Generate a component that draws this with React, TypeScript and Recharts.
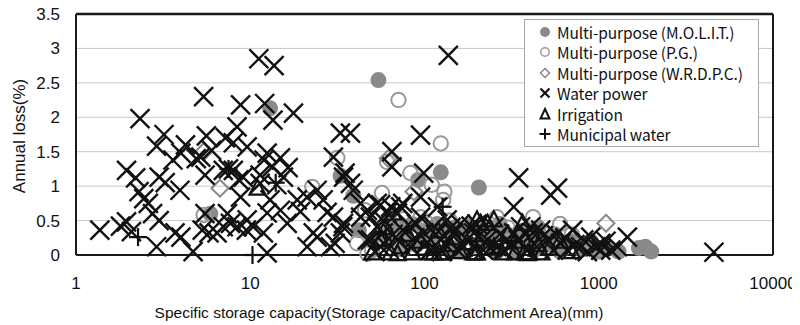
import React from 'react';
import { ScatterChart, Scatter, XAxis, YAxis, CartesianGrid, ReferenceLine } from 'recharts';

type P = [number, number];

// Multi-purpose (M.O.L.I.T.) – filled grey circles
const molit: P[] = [
  [5.9, 0.6], [13, 2.13], [54.4, 2.54], [124, 1.2], [92, 1.09], [205, 0.98], [33, 1.15], [39, 0.86], [42, 0.36],
  [55, 0.3], [62, 0.2], [70, 0.42], [78, 0.3], [85, 0.45], [90, 0.15], [100, 0.35], [110, 0.25], [118, 0.45],
  [130, 0.3], [140, 0.1], [150, 0.4], [165, 0.25], [180, 0.42], [200, 0.15], [220, 0.35], [240, 0.25], [270, 0.45],
  [300, 0.3], [330, 0.15], [360, 0.35], [400, 0.25], [450, 0.4], [500, 0.15], [560, 0.3], [620, 0.1], [700, 0.2],
  [800, 0.08], [900, 0.15], [1000, 0.05], [1150, 0.1], [1300, 0.05], [1700, 0.1], [1850, 0.12], [2000, 0.05],
  [75, 0.08], [160, 0.05], [260, 0.05], [340, 0.05], [430, 0.08], [600, 0.05],
];

// Multi-purpose (P.G.) – open grey circles
const pg: P[] = [
  [5.4, 0.58], [22.7, 0.99], [31.6, 1.41], [45.6, 0.65], [47, 0.02], [41, 0.17], [57, 0.9], [61, 1.35], [70.9, 2.25],
  [83, 1.19], [110, 1.02], [124, 1.62], [128, 0.8], [130, 0.92], [50, 0.07], [55, 0.3], [65, 0.45], [75, 0.52],
  [85, 0.35], [95, 0.55], [105, 0.45], [115, 0.28], [140, 0.5], [160, 0.38], [190, 0.35], [230, 0.47], [260, 0.55],
  [300, 0.4], [350, 0.33], [420, 0.55], [500, 0.3], [600, 0.45], [700, 0.3], [900, 0.2], [1000, 0.1], [180, 0.1],
  [80, 0.15],
];

// Multi-purpose (W.R.D.P.C.) – open grey diamonds
const wrdpc: P[] = [
  [6.7, 0.97], [87, 0.92], [1100, 0.46], [62, 1.4], [5.4, 1.5], [150, 0.3], [250, 0.2], [400, 0.15],
];

// Water power – black crosses
const waterPower: P[] = [
  [1.37, 0.36], [1.8, 0.42], [1.95, 0.48], [2.08, 0.34], [2.33, 1.98], [1.95, 1.23], [2.2, 1.12], [2.3, 0.92],
  [2.45, 0.82], [2.6, 0.75], [2.75, 0.6], [2.9, 1.58], [3.2, 1.75], [3.0, 1.13], [3.25, 1.05], [3.0, 0.5],
  [2.9, 0.12], [3.95, 0.94], [3.6, 1.38], [4.0, 1.48], [4.25, 1.6], [3.7, 0.32], [4.0, 0.26], [4.7, 0.05],
  [5.4, 2.3], [5.6, 1.73], [5.2, 1.42], [4.9, 1.4], [6.0, 1.52], [5.5, 1.16], [5.5, 0.6], [5.3, 0.36], [5.8, 0.32],
  [6.45, 0.32], [7.0, 0.41], [7.7, 0.46], [7.4, 0.6], [7.0, 1.23], [7.2, 1.7], [8.4, 1.86], [8.0, 1.63], [8.8, 2.18],
  [7.5, 1.25], [8.0, 1.23], [8.6, 1.09], [9.1, 1.13], [8.8, 0.84], [9.6, 1.57], [9.6, 0.51], [8.4, 0.41],
  [10.4, 0.41], [9.5, 0.36], [11.2, 2.85], [13.7, 2.75], [12.1, 2.2], [13.5, 1.96], [12.5, 1.48], [14.9, 1.41],
  [13.4, 1.28], [15.5, 1.13], [14.2, 1.02], [11.4, 1.04], [12, 1.38], [11.4, 1.16], [13, 0.8], [14.9, 0.65],
  [12.5, 0.61], [11.9, 0.32], [12.5, 0.03], [16.3, 0.46], [17.7, 2.06], [16.5, 1.27], [18.6, 0.8], [21.2, 0.84],
  [24.2, 0.94], [19.4, 0.63], [21.2, 0.12], [28.8, 0.12], [24.2, 0.26], [27.6, 0.62], [30, 0.55], [32.9, 0.32],
  [34.3, 0.46], [30, 1.42], [32.9, 1.77], [37.6, 1.77], [34.3, 1.13], [37.6, 1.04], [39, 0.94], [42.9, 0.75],
  [48.9, 0.55], [47, 0.22], [26.2, 0.8], [23, 0.32], [30.7, 0.17], [34, 0.41], [47, 0.65], [43, 0.55],
  [137, 2.9], [94.9, 1.74], [65, 1.5], [65, 1.28], [35, 1.19], [99, 1.19], [347, 1.12], [325, 0.7], [64, 0.7],
  [70, 0.61], [95, 0.84], [56, 0.73], [73, 0.7], [53.5, 0.75], [61, 0.61], [75, 0.75], [53.5, 0.41], [58, 0.32],
  [83, 0.41], [95, 0.55], [99, 0.32], [113, 0.41], [135, 0.51], [124, 0.22], [147, 0.32], [176, 0.22], [192, 0.32],
  [229, 0.22], [261, 0.12], [298, 0.22], [325, 0.32], [56, 0.12], [83, 0.12], [108, 0.07], [155, 0.07], [218, 0.07],
  [356, 0.41], [420, 0.32], [510, 0.22], [605, 0.17], [660, 0.07], [788, 0.12], [900, 0.26], [1027, 0.17],
  [1172, 0.07], [285, 0.07], [390, 0.07], [550, 0.07], [530, 0.87], [580, 0.97], [708, 0.36], [1460, 0.26],
  [1280, 0.12], [407, 0.41], [464, 0.36], [820, 0.22], [1027, 0.07], [4580, 0.04], [49, 0.22], [70, 0.22],
  [75, 0.36], [61, 0.12], [119, 0.7], [160, 0.45], [250, 0.4], [200, 0.45],
  [66, 0.3], [88, 0.25], [104, 0.18], [116, 0.3], [132, 0.15], [142, 0.4], [168, 0.12], [185, 0.42], [205, 0.28],
  [240, 0.1], [270, 0.3], [310, 0.12], [345, 0.22], [380, 0.3], [440, 0.12], [480, 0.28], [570, 0.3], [640, 0.25],
  [730, 0.15], [860, 0.05], [960, 0.12], [1100, 0.2], [90, 0.45], [58, 0.5], [52, 0.05], [126, 0.05],
];

// Irrigation – open black triangles
const irrigation: P[] = [
  [11, 0.97], [66, 0.61], [70, 0.02], [56, 0.22], [113, 0.03], [128, 0.03], [200, 0.51], [250, 0.51], [200, 0.03],
  [250, 0.12], [390, 0.02], [73, 0.12], [108, 0.03], [210, 0.46], [230, 0.46], [365, 0.46], [190, 0.03], [400, 0.03],
  [50, 0.03], [64, 0.03], [85, 0.03], [122, 0.03], [196, 0.03], [375, 0.03], [470, 0.03], [80, 0.3], [150, 0.25],
  [300, 0.3], [600, 0.2], [140, 0.15], [280, 0.03], [330, 0.2], [160, 0.05], [95, 0.2], [120, 0.35], [450, 0.15],
  [700, 0.05], [100, 0.1], [175, 0.18], [230, 0.1], [520, 0.1], [60, 0.4], [330, 0.03],
];

// Municipal water – black plus signs
const municipal: P[] = [
  [2.27, 0.26], [10.3, 0.0], [127, 0.7], [7.5, 1.25], [14, 1.05], [60, 0.3], [200, 0.2], [400, 0.1],
];

const xTicks = [1, 10, 100, 1000, 10000];
const yTicks = [0, 0.5, 1, 1.5, 2, 2.5, 3, 3.5];
const xTitle = 'Specific storage capacity(Storage capacity/Catchment Area)(mm)';
const yTitle = 'Annual loss(%)';

const toPts = (a: P[]) => a.map(([x, y]) => ({ x, y }));

const GREY_FILL = '#8a8a8a';
const GREY_LINE = '#9a9a9a';
const BLACK = '#111';
const FRAME = '#1a1a1a';

const FilledCircle = (p: any) => <circle cx={p.cx} cy={p.cy} r={8} fill={GREY_FILL} />;
const OpenCircle = (p: any) => <circle cx={p.cx} cy={p.cy} r={7.2} fill="none" stroke={GREY_LINE} strokeWidth={2} />;
const Diamond = (p: any) => {
  const s = 8.5;
  const { cx, cy } = p;
  return <path d={`M${cx},${cy - s}L${cx + s},${cy}L${cx},${cy + s}L${cx - s},${cy}Z`} fill="none" stroke="#888" strokeWidth={2} />;
};
const Cross = (p: any) => {
  const s = 9.5;
  const { cx, cy } = p;
  return (
    <g>
      <line x1={cx - s} y1={cy - s} x2={cx + s} y2={cy + s} stroke={BLACK} strokeWidth={2.4} />
      <line x1={cx - s} y1={cy + s} x2={cx + s} y2={cy - s} stroke={BLACK} strokeWidth={2.4} />
    </g>
  );
};
const Triangle = (p: any) => {
  const { cx, cy } = p;
  return <path d={`M${cx},${cy - 8.5}L${cx + 8},${cy + 6.5}L${cx - 8},${cy + 6.5}Z`} fill="none" stroke={BLACK} strokeWidth={2.2} />;
};
const Plus = (p: any) => {
  const s = 9;
  const { cx, cy } = p;
  return (
    <g>
      <line x1={cx - s} y1={cy} x2={cx + s} y2={cy} stroke={BLACK} strokeWidth={2.2} />
      <line x1={cx} y1={cy - s} x2={cx} y2={cy + s} stroke={BLACK} strokeWidth={2.2} />
    </g>
  );
};

const legendRows = [
  { label: 'Multi-purpose (M.O.L.I.T.)', kind: 'filled' },
  { label: 'Multi-purpose (P.G.)', kind: 'open' },
  { label: 'Multi-purpose (W.R.D.P.C.)', kind: 'diamond' },
  { label: 'Water power', kind: 'cross' },
  { label: 'Irrigation', kind: 'triangle' },
  { label: 'Municipal water', kind: 'plus' },
];

const LegendIcon = ({ kind }: { kind: string }) => {
  let el: React.ReactNode = null;
  if (kind === 'filled') el = <circle cx={7} cy={7} r={5} fill={GREY_FILL} />;
  if (kind === 'open') el = <circle cx={7} cy={7} r={4.3} fill="none" stroke={GREY_LINE} strokeWidth={1.5} />;
  if (kind === 'diamond') el = <path d="M7,2.5L11.5,7L7,11.5L2.5,7Z" fill="none" stroke="#888" strokeWidth={1.5} />;
  if (kind === 'cross') el = (
    <g stroke={BLACK} strokeWidth={2.2}>
      <line x1={2.5} y1={2.5} x2={11.5} y2={11.5} />
      <line x1={2.5} y1={11.5} x2={11.5} y2={2.5} />
    </g>
  );
  if (kind === 'triangle') el = <path d="M7,2L11.5,11.5L2.5,11.5Z" fill="none" stroke={BLACK} strokeWidth={2} />;
  if (kind === 'plus') el = (
    <g stroke={BLACK} strokeWidth={2}>
      <line x1={1.5} y1={7} x2={12.5} y2={7} />
      <line x1={7} y1={1.5} x2={7} y2={12.5} />
    </g>
  );
  return <svg width={14} height={14} style={{ display: 'block' }}>{el}</svg>;
};

const tickFont = { fontFamily: '"Liberation Sans", Arial, sans-serif', fontSize: 17, fill: '#111' };

export default function App() {
  return (
    <div style={{ position: 'relative', width: 800, height: 325, marginLeft: -8, marginTop: -8 }}>
      <ScatterChart width={800} height={325} margin={{ top: 14, right: 27, bottom: 0, left: 16 }}>
        <CartesianGrid vertical={false} stroke="#c8c8c8" />
        <XAxis
          type="number"
          dataKey="x"
          scale="log"
          domain={[1, 10000]}
          ticks={xTicks}
          height={70}
          tickSize={0}
          tickMargin={22}
          axisLine={{ stroke: FRAME, strokeWidth: 2 }}
          tick={tickFont}
        />
        <YAxis
          type="number"
          dataKey="y"
          domain={[0, 3.5]}
          ticks={yTicks}
          width={60}
          tickSize={0}
          tickMargin={16}
          axisLine={{ stroke: FRAME, strokeWidth: 2 }}
          tick={tickFont}
        />
        <ReferenceLine y={3.5} stroke={FRAME} strokeWidth={2.5} />
        <ReferenceLine x={10000} stroke={FRAME} strokeWidth={2} />
        <Scatter name="Multi-purpose (M.O.L.I.T.)" data={toPts(molit)} shape={FilledCircle} isAnimationActive={false} />
        <Scatter name="Multi-purpose (P.G.)" data={toPts(pg)} shape={OpenCircle} isAnimationActive={false} />
        <Scatter name="Multi-purpose (W.R.D.P.C.)" data={toPts(wrdpc)} shape={Diamond} isAnimationActive={false} />
        <Scatter name="Water power" data={toPts(waterPower)} shape={Cross} isAnimationActive={false} />
        <Scatter name="Irrigation" data={toPts(irrigation)} shape={Triangle} isAnimationActive={false} />
        <Scatter name="Municipal water" data={toPts(municipal)} shape={Plus} isAnimationActive={false} />
      </ScatterChart>

      {/* legend */}
      <div
        style={{
          position: 'absolute',
          left: 524,
          top: 19,
          width: 235,
          height: 128,
          boxSizing: 'border-box',
          border: '1px solid #a8a8a8',
          background: '#fff',
          paddingTop: 1.5,
          fontFamily: '"Noto Sans CJK JP", "Noto Sans", sans-serif',
          fontSize: 15.5,
          color: '#111',
        }}
      >
        {legendRows.map((r) => (
          <div key={r.label} style={{ display: 'flex', alignItems: 'center', height: 20.5, paddingLeft: 13 }}>
            <LegendIcon kind={r.kind} />
            <span style={{ marginLeft: 5, whiteSpace: 'nowrap', lineHeight: '20px', letterSpacing: -0.1 }}>{r.label}</span>
          </div>
        ))}
      </div>

      {/* axis titles */}
      <div
        style={{
          position: 'absolute',
          left: 0,
          top: 303,
          width: 758,
          textAlign: 'center',
          lineHeight: '20px',
          whiteSpace: 'nowrap',
          fontFamily: '"Liberation Sans", Arial, sans-serif',
          fontSize: 15.5,
          color: '#111',
        }}
      >
        {xTitle}
      </div>
      <div
        style={{
          position: 'absolute',
          left: 20,
          top: 136,
          transform: 'translate(-50%, -50%) rotate(-90deg)',
          lineHeight: '20px',
          whiteSpace: 'nowrap',
          fontFamily: '"Liberation Sans", Arial, sans-serif',
          fontSize: 17,
          color: '#111',
        }}
      >
        {yTitle}
      </div>
    </div>
  );
}
